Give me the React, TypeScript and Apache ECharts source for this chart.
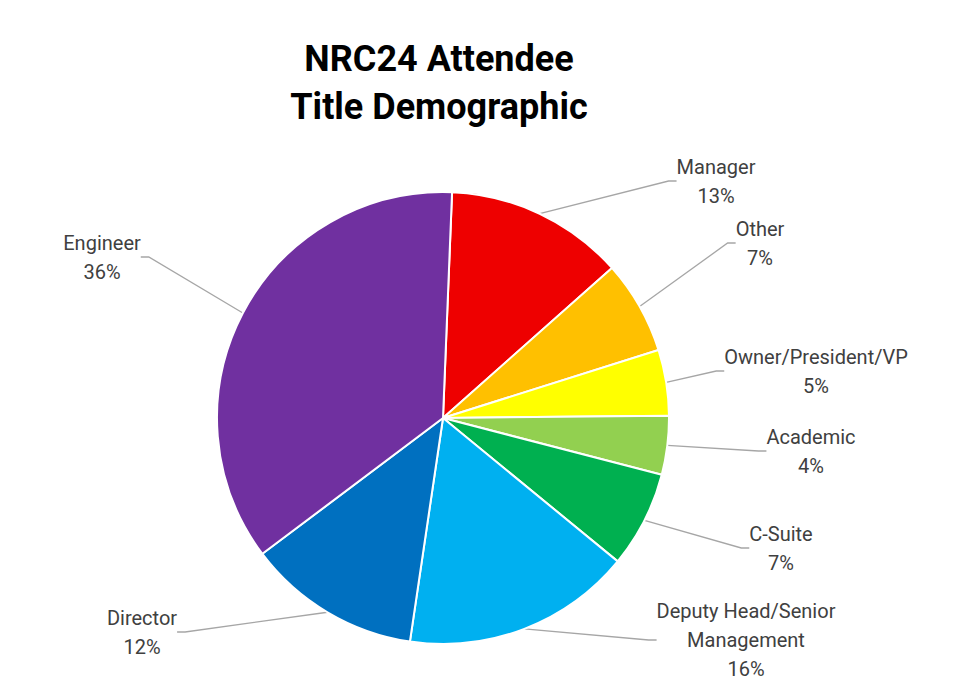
import { useEffect, useRef } from "react";
import * as echarts from "echarts";

// Slice order follows the reference, clockwise from 12 o'clock
const categories = [
  "Manager",
  "Other",
  "Owner/President/VP",
  "Academic",
  "C-Suite",
  "Deputy Head/Senior Management",
  "Director",
  "Engineer",
];
// Share of attendees (%)
const shares = [12.8, 6.7, 4.7, 4.2, 6.9, 16.4, 12.4, 35.9];
const colors = [
  "#EE0000",
  "#FFC000",
  "#FFFF00",
  "#92D050",
  "#00B050",
  "#00B0F0",
  "#0070C0",
  "#7030A0",
];

// Where each label sits (centre of the text block)
const labelSpots: [number, number][] = [
  [716, 181],
  [760, 243],
  [816, 371],
  [811, 451],
  [781, 548],
  [746, 640],
  [142, 632],
  [102, 257],
];

const FONT = "Roboto, 'Noto Sans', sans-serif";

// greedy word wrap, like Excel does for long category names
function wrap(text: string, maxChars = 20) {
  const lines: string[] = [];
  let cur = "";
  for (const w of text.split(" ")) {
    if (cur && (cur + " " + w).length > maxChars) {
      lines.push(cur);
      cur = w;
    } else {
      cur = cur ? cur + " " + w : w;
    }
  }
  if (cur) lines.push(cur);
  return lines.join("\n");
}

export default function App() {
  const chartRef = useRef<HTMLDivElement>(null);

  useEffect(() => {
    document.body.style.margin = "0";
    if (!chartRef.current) return;
    const chart = echarts.init(chartRef.current, undefined, { renderer: "svg" });

    chart.setOption({
      animation: false,
      backgroundColor: "#ffffff",
      title: {
        text: "NRC24 Attendee\nTitle Demographic",
        left: 434,
        top: 30,
        textAlign: "center",
        textStyle: {
          fontFamily: FONT,
          fontSize: 36,
          fontWeight: "bold",
          color: "#000000",
          lineHeight: 48,
        },
      },
      series: [
        {
          type: "pie",
          center: [443, 418],
          radius: 226,
          startAngle: 87.7,
          clockwise: true,
          data: categories.map((name, i) => ({
            name,
            value: shares[i],
            itemStyle: { color: colors[i] },
          })),
          itemStyle: { borderColor: "#ffffff", borderWidth: 2 },
          label: {
            show: true,
            fontFamily: FONT,
            fontSize: 20,
            lineHeight: 29,
            color: "#404040",
            align: "center",
            formatter: (p: any) => `${wrap(p.name)}\n${Math.round(p.percent)}%`,
          },
          labelLine: {
            show: true,
            length: 20,
            length2: 8,
            lineStyle: { color: "#A6A6A6", width: 1.3 },
          },
          labelLayout: (params: any) => {
            const spot = labelSpots[params.dataIndex];
            return {
              x: spot[0],
              y: spot[1],
              align: "center",
              verticalAlign: "middle",
            };
          },
          emphasis: { disabled: true },
        },
      ],
    });

    return () => chart.dispose();
  }, []);

  return <div ref={chartRef} style={{ width: 960, height: 697 }} />;
}
